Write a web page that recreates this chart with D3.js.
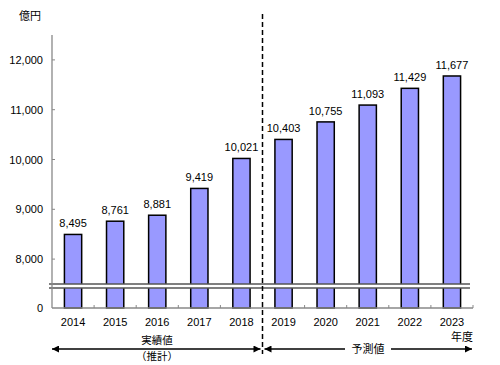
<!DOCTYPE html>
<html>
<head>
<meta charset="utf-8">
<script src="https://cdn.jsdelivr.net/npm/d3@7"></script>
<style>
  body { margin: 0; background: #fff; }
  text { font-family: "Liberation Sans", "Noto Sans CJK JP", sans-serif; fill: #000; }
  .jp { font-family: "Noto Sans CJK JP", sans-serif; }
</style>
</head>
<body>
<svg id="chart" width="500" height="365"></svg>
<script>
var years = ['2014', '2015', '2016', '2017', '2018', '2019', '2020', '2021', '2022', '2023'];
var values = [8495, 8761, 8881, 9419, 10021, 10403, 10755, 11093, 11429, 11677];
var yTicks = [8000, 9000, 10000, 11000, 12000];

var svg = d3.select("#chart");
var left = 52, right = 473;
var base = 308;          // zero line
var breakTop = 284, breakBot = 288;

var x = d3.scaleBand()
  .domain(years)
  .range([left, right])
  .paddingInner(0.59)
  .paddingOuter(0.295);

// upper part of the broken axis
var y = d3.scaleLinear()
  .domain([7500, 12500])
  .range([breakTop, 35]);

var fmt = d3.format(",");

// bars, drawn in two pieces around the break
var bars = svg.append("g");
bars.selectAll("rect.up")
  .data(values)
  .enter()
  .append("rect")
  .attr("class", "up")
  .attr("x", function(d, i) { return x(years[i]); })
  .attr("y", function(d) { return y(d); })
  .attr("width", x.bandwidth())
  .attr("height", function(d) { return breakTop - y(d) + 2; })
  .attr("fill", "#9999ff")
  .attr("stroke", "#000")
  .attr("stroke-width", 1.5);

bars.selectAll("rect.low")
  .data(values)
  .enter()
  .append("rect")
  .attr("class", "low")
  .attr("x", function(d, i) { return x(years[i]); })
  .attr("y", breakBot - 2)
  .attr("width", x.bandwidth())
  .attr("height", base - breakBot + 2)
  .attr("fill", "#9999ff")
  .attr("stroke", "#000")
  .attr("stroke-width", 1.5);

// white gap + break lines
svg.append("rect")
  .attr("x", left - 3).attr("y", breakTop)
  .attr("width", right - left + 3).attr("height", breakBot - breakTop)
  .attr("fill", "#fff");
[breakTop, breakBot].forEach(function(v) {
  svg.append("line")
    .attr("x1", left - 3).attr("x2", right - 3)
    .attr("y1", v).attr("y2", v)
    .attr("stroke", "#555").attr("stroke-width", 1.3);
});

// y axis
svg.append("line")
  .attr("x1", left).attr("x2", left)
  .attr("y1", 35).attr("y2", base)
  .attr("stroke", "#888").attr("stroke-width", 1.3);

var yAxis = svg.append("g");
yAxis.selectAll("line")
  .data(yTicks)
  .enter().append("line")
  .attr("x1", left).attr("x2", left + 3)
  .attr("y1", function(d) { return y(d); })
  .attr("y2", function(d) { return y(d); })
  .attr("stroke", "#888");
yAxis.selectAll("text")
  .data(yTicks)
  .enter().append("text")
  .attr("x", left - 9)
  .attr("y", function(d) { return y(d) + 4; })
  .attr("text-anchor", "end")
  .style("font-size", "11px")
  .text(function(d) { return fmt(d); });
svg.append("text")
  .attr("x", left - 9).attr("y", base + 4)
  .attr("text-anchor", "end")
  .style("font-size", "11px")
  .text("0");

svg.append("text")
  .attr("class", "jp")
  .attr("x", 30).attr("y", 20)
  .attr("text-anchor", "middle")
  .style("font-size", "11px")
  .text("億円");

// x axis
svg.append("line")
  .attr("x1", left).attr("x2", right)
  .attr("y1", base).attr("y2", base)
  .attr("stroke", "#888").attr("stroke-width", 1.3);
svg.append("g").selectAll("line")
  .data(years.slice(1).concat(["end"]))
  .enter().append("line")
  .attr("x1", function(d, i) { return left + (i + 1) * x.step(); })
  .attr("x2", function(d, i) { return left + (i + 1) * x.step(); })
  .attr("y1", base).attr("y2", base - 3)
  .attr("stroke", "#888");

svg.append("g").selectAll("text")
  .data(years)
  .enter().append("text")
  .attr("x", function(d) { return x(d) + x.bandwidth() / 2; })
  .attr("y", base + 18)
  .attr("text-anchor", "middle")
  .style("font-size", "11px")
  .text(function(d) { return d; });

// value labels
svg.append("g").selectAll("text")
  .data(values)
  .enter().append("text")
  .attr("x", function(d, i) { return x(years[i]) + x.bandwidth() / 2; })
  .attr("y", function(d) { return y(d) - 7; })
  .attr("text-anchor", "middle")
  .style("font-size", "11px")
  .text(function(d) { return fmt(d); });

// dashed divider
var divX = left + 5 * x.step();
svg.append("line")
  .attr("x1", divX).attr("x2", divX)
  .attr("y1", 14).attr("y2", 354)
  .attr("stroke", "#000").attr("stroke-width", 1.5)
  .attr("stroke-dasharray", "5,3");

// arrows
var defs = svg.append("defs");
defs.append("marker")
  .attr("id", "ah").attr("viewBox", "0 0 10 10")
  .attr("refX", 10).attr("refY", 5)
  .attr("markerWidth", 9).attr("markerHeight", 7)
  .attr("markerUnits", "userSpaceOnUse")
  .attr("orient", "auto-start-reverse")
  .append("path").attr("d", "M0,0L10,5L0,10z").attr("fill", "#000");

var arrowY = 349;
svg.append("line")
  .attr("x1", left).attr("x2", divX - 2)
  .attr("y1", arrowY).attr("y2", arrowY)
  .attr("stroke", "#000").attr("stroke-width", 1.3)
  .attr("marker-start", "url(#ah)").attr("marker-end", "url(#ah)");
svg.append("line")
  .attr("x1", divX + 2).attr("x2", right - 1)
  .attr("y1", arrowY).attr("y2", arrowY)
  .attr("stroke", "#000").attr("stroke-width", 1.3)
  .attr("marker-start", "url(#ah)").attr("marker-end", "url(#ah)");

svg.append("text")
  .attr("class", "jp")
  .attr("x", 157).attr("y", 344)
  .attr("text-anchor", "middle")
  .style("font-size", "10.5px")
  .text("実績値");
svg.append("text")
  .attr("class", "jp")
  .attr("x", 157).attr("y", 360)
  .attr("text-anchor", "middle")
  .style("font-size", "10.5px")
  .text("（推計）");

svg.append("rect")
  .attr("x", 345).attr("y", arrowY - 7)
  .attr("width", 46).attr("height", 14)
  .attr("fill", "#fff");
svg.append("text")
  .attr("class", "jp")
  .attr("x", 368).attr("y", arrowY + 4)
  .attr("text-anchor", "middle")
  .style("font-size", "11px")
  .text("予測値");

svg.append("text")
  .attr("class", "jp")
  .attr("x", 462).attr("y", 341)
  .attr("text-anchor", "middle")
  .style("font-size", "11px")
  .text("年度");
</script>
</body>
</html>
